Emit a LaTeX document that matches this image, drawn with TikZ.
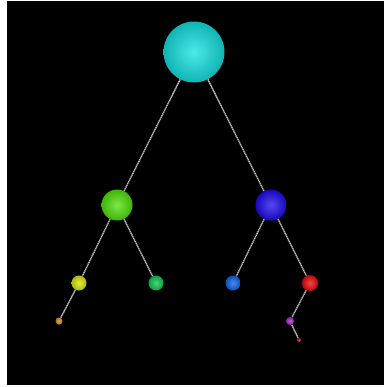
\documentclass[tikz,border=0pt]{standalone}
\begin{document}
\begin{tikzpicture}[x=1pt,y=-1pt,
  sph/.style={circle,inner sep=0pt,minimum size=#1},
  edge/.style={draw=gray!55,line width=1.4pt,dash pattern=on 1.4pt off 0.5pt}]
\useasboundingbox (0,0) rectangle (384,387);
\fill[white] (0,0) rectangle (384,387);
\fill[black] (7,1) rectangle (384,385);
\newcommand{\sphere}[5]{%
  \node[sph=#4,shading=radial,inner color=#5!75!white,outer color=#5!80!black] (#1) at (#2,#3) {};}
\definecolor{cCyan}{RGB}{20,225,225}
\definecolor{cLime}{RGB}{80,225,10}
\definecolor{cBlue}{RGB}{30,10,235}
\definecolor{cYel}{RGB}{215,230,10}
\definecolor{cGrn}{RGB}{10,200,80}
\definecolor{cSBlue}{RGB}{10,100,235}
\definecolor{cRed}{RGB}{235,10,10}
\definecolor{cOr}{RGB}{215,140,40}
\definecolor{cPur}{RGB}{170,40,200}
\definecolor{cCrim}{RGB}{200,10,70}
% spheres
\sphere{a}{194}{52}{61pt}{cCyan}
\sphere{b}{117}{205}{31pt}{cLime}
\sphere{c}{271}{205}{31pt}{cBlue}
\sphere{d}{79}{283}{15pt}{cYel}
\sphere{e}{156}{283}{15pt}{cGrn}
\sphere{f}{233}{283}{15pt}{cSBlue}
\sphere{g}{310}{283}{16pt}{cRed}
\sphere{h}{59}{321}{7pt}{cOr}
\sphere{i}{290}{321}{8pt}{cPur}
\sphere{j}{299}{340}{4pt}{cCrim}
% edges
\draw[edge] (a) -- (b);
\draw[edge] (a) -- (c);
\draw[edge] (b) -- (d);
\draw[edge] (b) -- (e);
\draw[edge] (c) -- (f);
\draw[edge] (c) -- (g);
\draw[edge] (d) -- (h);
\draw[edge] (g) -- (i);
\draw[edge] (i) -- (j);
\end{tikzpicture}
\end{document}
